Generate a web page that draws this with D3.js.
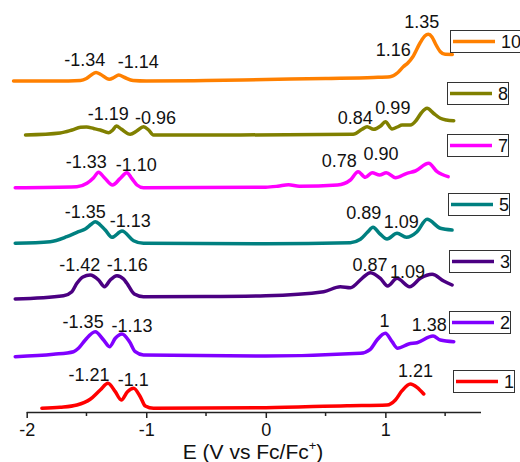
<!DOCTYPE html>
<html>
<head>
<meta charset="utf-8">
<script src="https://cdn.jsdelivr.net/npm/d3@7"></script>
<style>
  body { margin: 0; background: #fff; }
  text { font-family: Arial, "Liberation Sans", sans-serif; fill: #111; }
</style>
</head>
<body>
<div class="chart"></div>
<script>
// series names, colours and vertical offsets (baseline of each trace)
const names = ['10', '8', '7', '5', '3', '2', '1'];
const colors = ['#ff8000', '#808000', '#ff00ff', '#008080', '#4b0082', '#8000ff', '#ff0000'];
const offsets = [331, 277, 224.3, 168.7, 112, 55.3, 3.7];

// [E, relative current]
const s10 = [[-2.11,0],[-1.75,0],[-1.55,0.5],[-1.50,2.5],[-1.46,6],[-1.42,8.5],[-1.38,6.5],[-1.31,1.7],[-1.27,3.5],[-1.23,6],[-1.18,3.5],[-1.11,0.5],[-1.0,0],[-0.5,0.5],[0,1.5],[0.5,2.5],[0.9,3.5],[1.04,4.3],[1.10,8],[1.15,14.3],[1.19,18.3],[1.23,24.3],[1.29,38],[1.33,45],[1.36,46.7],[1.39,44],[1.42,37],[1.46,29.3],[1.50,26.7],[1.56,26.5]];
const s8 = [[-2.01,0],[-1.72,2],[-1.62,5],[-1.55,7.7],[-1.50,8],[-1.44,6.5],[-1.385,5],[-1.315,2.3],[-1.28,5],[-1.25,9],[-1.21,6],[-1.134,0.7],[-1.08,4],[-1.023,8.3],[-0.98,5],[-0.94,0],[-0.5,0],[0.73,0.7],[0.805,5.7],[0.847,8.3],[0.902,5.7],[0.96,9],[1.0,13.3],[1.056,6],[1.10,8],[1.14,10],[1.209,10],[1.26,15],[1.30,22],[1.349,26.7],[1.40,22],[1.46,16.7],[1.51,15],[1.572,14.3]];
const s7 = [[-2.096,0],[-1.58,1],[-1.496,4.4],[-1.44,10],[-1.399,15.4],[-1.35,10],[-1.282,2.7],[-1.22,9],[-1.162,15],[-1.12,9],[-1.078,2.7],[-1.023,0],[0,0.5],[0.1,1.5],[0.19,3],[0.28,1.5],[0.6,2.7],[0.707,7.7],[0.772,16],[0.833,10.4],[0.889,15],[0.952,12.7],[1.008,15],[1.084,10],[1.18,14.4],[1.251,16.7],[1.362,24.4],[1.433,16],[1.525,11]];
const s5 = [[-2.096,0],[-1.803,1.6],[-1.664,6.6],[-1.567,11.6],[-1.51,14.3],[-1.46,19],[-1.427,21.6],[-1.39,19],[-1.343,13.3],[-1.287,6],[-1.203,12.3],[-1.106,2.6],[-1.023,0],[0,-0.5],[0.707,0.6],[0.791,4],[0.85,11],[0.897,16],[0.95,10],[1.014,4.3],[1.098,10],[1.176,6],[1.265,11.6],[1.349,24],[1.46,15],[1.558,13.3]];
const s3 = [[-2.096,1],[-1.692,4.3],[-1.622,8.3],[-1.58,16.7],[-1.53,23],[-1.469,25],[-1.399,20],[-1.349,13.3],[-1.301,20],[-1.245,24.3],[-1.19,21],[-1.162,16.7],[-1.10,6],[-1.023,3.3],[-0.5,3.5],[0,4.3],[0.484,8.3],[0.623,13.3],[0.707,12.3],[0.805,21.7],[0.874,27.3],[0.958,21.7],[1.019,14],[1.098,21.7],[1.203,13.3],[1.293,21.7],[1.391,25.7],[1.488,19],[1.558,15]];
const s2 = [[-2.096,0],[-1.776,2.4],[-1.608,5],[-1.567,8.4],[-1.51,16.7],[-1.427,25],[-1.357,16.7],[-1.307,10],[-1.259,18.4],[-1.203,22.7],[-1.14,15],[-1.092,5],[-1.023,1.7],[0,0.7],[0.791,3.4],[0.874,7.4],[0.93,16.7],[1.0,23.4],[1.056,15],[1.103,8.4],[1.195,12.7],[1.265,14],[1.399,20.7],[1.46,16.7],[1.572,15]];
const s1 = [[-1.873,0],[-1.72,1],[-1.58,3.3],[-1.469,9],[-1.385,18.3],[-1.32,25],[-1.259,16.6],[-1.209,8.3],[-1.157,16.6],[-1.106,20],[-1.05,11.6],[-1.008,2.3],[-0.939,0],[0,0.6],[0.679,2.6],[1.014,3.3],[1.084,8.3],[1.14,17.6],[1.209,24.3],[1.265,21],[1.321,14.3]];
const series = [s10, s8, s7, s5, s3, s2, s1];

// peak labels: [text, E, height]
const peakLabels = [
  ['-1.34', -1.515, 346], ['-1.14', -1.067, 344], ['1.16', 1.067, 356], ['1.35', 1.305, 384],
  ['-1.19', -1.318, 292], ['-0.96', -0.922, 288], ['0.84', 0.749, 288], ['0.99', 1.063, 298],
  ['-1.33', -1.502, 244], ['-1.10', -1.084, 241], ['0.78', 0.615, 245], ['0.90', 0.963, 252],
  ['-1.35', -1.51, 194], ['-1.13', -1.134, 185], ['0.89', 0.819, 193], ['1.09', 1.134, 184],
  ['-1.42', -1.557, 141], ['-1.16', -1.159, 141], ['0.87', 0.871, 141], ['1.09', 1.185, 134],
  ['-1.35', -1.528, 84], ['-1.13', -1.12, 80], ['1', 0.992, 85], ['1.38', 1.367, 81],
  ['-1.21', -1.478, 31], ['-1.1', -1.109, 26], ['1.21', 1.252, 35]
];

const xTicks = [-2, -1, 0, 1];

const width = 520;
const height = 462;

const svg = d3.select('.chart')
  .append('svg')
  .attr('width', width)
  .attr('height', height);

const xScale = d3.scaleLinear()
  .domain([-2, 1.8])
  .range([26.7, 481]);

const yScale = d3.scaleLinear()
  .domain([0, 412])
  .range([412, 0]);

const line = d3.line()
  .x(d => xScale(d[0]))
  .y(d => yScale(d[1]))
  .curve(d3.curveMonotoneX);

series.forEach((s, i) => {
  svg.append('path')
    .datum(s.map(d => [d[0], d[1] + offsets[i]]))
    .attr('d', line)
    .attr('fill', 'none')
    .attr('stroke', colors[i])
    .attr('stroke-width', 3.5)
    .attr('stroke-linejoin', 'round')
    .attr('stroke-linecap', 'round');
});

svg.selectAll('.peak')
  .data(peakLabels)
  .join('text')
  .attr('class', 'peak')
  .attr('x', d => xScale(d[1]))
  .attr('y', d => yScale(d[2]))
  .attr('text-anchor', 'middle')
  .style('font-size', '18px')
  .text(d => d[0]);

// x axis: major ticks with labels, minor ticks at the halves
const xAxis = d3.axisBottom(xScale)
  .tickValues(xTicks)
  .tickSize(6)
  .tickFormat(d3.format('d'));

const axisG = svg.append('g')
  .attr('transform', `translate(0, ${yScale(0)})`)
  .call(xAxis);
axisG.select('.domain').attr('d', `M${xScale(-2)},0.5H${xScale(1.8)}`).attr('stroke', '#222').attr('stroke-width', 1.5);
axisG.selectAll('.tick line').attr('stroke', '#222').attr('stroke-width', 1.5);
axisG.selectAll('.tick text')
  .attr('dy', null)
  .attr('y', 24)
  .style('font-size', '18px')
  .style('font-family', 'Arial, "Liberation Sans", sans-serif')
  .attr('fill', '#111')
  .text(d => d < 0 ? '-' + Math.abs(d) : d);

axisG.selectAll('.minor')
  .data([-1.5, -0.5, 0.5, 1.5])
  .join('line')
  .attr('class', 'minor')
  .attr('x1', d => xScale(d))
  .attr('x2', d => xScale(d))
  .attr('y1', 0)
  .attr('y2', 4)
  .attr('stroke', '#222')
  .attr('stroke-width', 1.5);

const title = svg.append('text')
  .attr('x', 253)
  .attr('y', 459)
  .attr('text-anchor', 'middle')
  .style('font-size', '21px');
title.append('tspan').text('E (V vs Fc/Fc');
title.append('tspan').attr('dy', -9).style('font-size', '13px').text('+');
title.append('tspan').attr('dy', 9).text(')');

// legend boxes, one per trace, placed near the trace end
const legendX = [450, 447, 447, 448, 449, 449, 453];
const legendY = [30, 82, 134, 193, 250, 311, 370];

names.forEach((n, i) => {
  const g = svg.append('g').attr('transform', `translate(${legendX[i]}, ${legendY[i]})`);
  g.append('rect')
    .attr('x', 0.5).attr('y', 0.5)
    .attr('width', n.length > 1 ? 74 : 61)
    .attr('height', 22)
    .attr('fill', '#fff')
    .attr('stroke', '#333')
    .attr('stroke-width', 1);
  g.append('line')
    .attr('x1', 3).attr('x2', 45)
    .attr('y1', 11.5).attr('y2', 11.5)
    .attr('stroke', colors[i])
    .attr('stroke-width', 3.5);
  g.append('text')
    .attr('x', 51)
    .attr('y', 18)
    .style('font-size', '18px')
    .text(n);
});
</script>
</body>
</html>
